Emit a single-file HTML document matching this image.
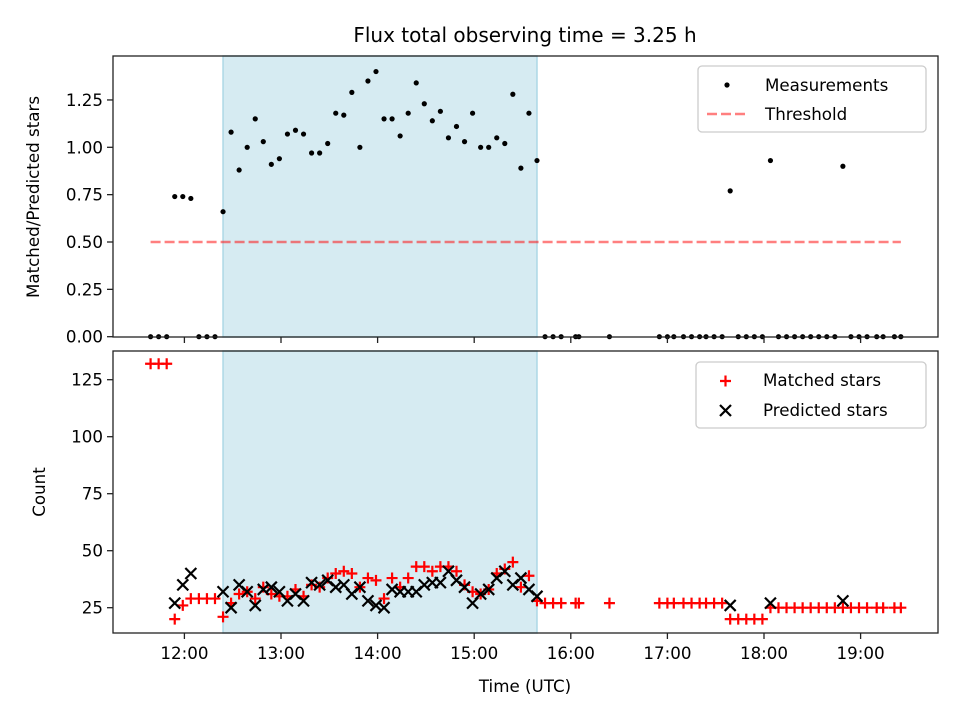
<!DOCTYPE html>
<html><head><meta charset="utf-8"><style>
html,body{margin:0;padding:0;background:#fff;}
svg{display:block;font-family:"DejaVu Sans","Liberation Sans",sans-serif;}
</style></head><body>
<svg id="chart" width="960" height="720" viewBox="0 0 960 720" xmlns="http://www.w3.org/2000/svg"></svg>
<script>
const times = ["11:39","11:44","11:49","11:54","11:59","12:04","12:09","12:14","12:19","12:24","12:29","12:34","12:39","12:44","12:49","12:54","12:59","13:04","13:09","13:14","13:19","13:24","13:29","13:34","13:39","13:44","13:49","13:54","13:59","14:04","14:09","14:14","14:19","14:24","14:29","14:34","14:39","14:44","14:49","14:54","14:59","15:04","15:09","15:14","15:19","15:24","15:29","15:34","15:39",
"15:44","15:49","15:54","16:03","16:05","16:24","16:55","17:00","17:04","17:10","17:15","17:20","17:24","17:29","17:34","17:39","17:44","17:49","17:54","17:59","18:04","18:09","18:14","18:19","18:24","18:29","18:34","18:39","18:44","18:49","18:54","18:59","19:04","19:10","19:14","19:21","19:25"];
const ratio = [0,0,0,0.74,0.74,0.73,0,0,0,0.66,1.08,0.88,1.0,1.15,1.03,0.91,0.94,1.07,1.09,1.07,0.97,0.97,1.02,1.18,1.17,1.29,1.0,1.35,1.40,1.15,1.15,1.06,1.18,1.34,1.23,1.14,1.19,1.05,1.11,1.03,1.18,1.0,1.0,1.05,1.02,1.28,0.89,1.18,0.93,
0,0,0,0,0,0,0,0,0,0,0,0,0,0,0,0.77,0,0,0,0,0.93,0,0,0,0,0,0,0,0,0.90,0,0,0,0,0,0,0];
const matched = [132,132,132,20,26,29,29,29,29,21,27,31,32,29,34,31,30,30,33,30,35,34,38,40,41,40,34,38,37,29,38,34,38,43,43,41,43,43,41,35,32,31,33,40,42,45,34,39,28,
27,27,27,27,27,27,27,27,27,27,27,27,27,27,27,20,20,20,20,20,25,25,25,25,25,25,25,25,25,25,25,25,25,25,25,25,25];
const predicted = [null,null,null,27,35,40,null,null,null,32,25,35,32,26,33,34,32,28,31,28,36,35,37,34,35,31,34,28,26,25,33,32,32,32,35,36,36,41,37,34,27,31,33,38,41,35,38,33,30,
null,null,null,null,null,null,null,null,null,null,null,null,null,null,null,26,null,null,null,null,27,null,null,null,null,null,null,null,null,28,null,null,null,null,null,null,null];
const threshold = 0.5;
const shadeStart = "12:24", shadeEnd = "15:39";
const xTickLabels = ["12:00","13:00","14:00","15:00","16:00","17:00","18:00","19:00"];
const topTicks = [0,0.25,0.5,0.75,1.0,1.25];
const botTicks = [25,50,75,100,125];

const NS="http://www.w3.org/2000/svg";
const svg=document.getElementById('chart');
const L=113,R=938,T1=56,B1=337,T2=351,B2=633;
function mins(s){const p=s.split(':');return (+p[0]-12)*60+(+p[1]);}
function x(s){return 184.4+mins(s)*1.61;}
function yTop(v){return 336.7-v*189.4;}
function yBot(v){return 607.7-(v-25)*2.28;}
function el(tag,attrs,parent){const e=document.createElementNS(NS,tag);for(const k in attrs)e.setAttribute(k,attrs[k]);(parent||svg).appendChild(e);return e;}
function txt(s,attrs,parent){const e=el('text',attrs,parent);e.textContent=s;return e;}

// title
const title=txt("Flux total observing time = 3.25 h",{x:525,y:42,'text-anchor':'middle','font-size':20,fill:'#000'});


function panel(top,bot,name){
  const g=el('g',{});
  
  const sh=el('rect',{x:x(shadeStart),y:top,width:x(shadeEnd)-x(shadeStart),height:bot-top,fill:'#add8e6','fill-opacity':0.5,stroke:'#add8e6','stroke-width':1.5},g);
  
  return g;
}
const gTop=panel(T1,B1,'ratio-panel');
const gBot=panel(T2,B2,'count-panel');

// threshold
const th=el('line',{x1:x(times[0]),x2:x(times[times.length-1]),y1:yTop(threshold),y2:yTop(threshold),stroke:'#ff0000','stroke-opacity':0.5,'stroke-width':2.5,'stroke-dasharray':'10,4'},gTop);


// measurements
times.forEach((t,i)=>{
  const c=el('circle',{cx:x(t),cy:yTop(ratio[i]),r:2.6,fill:'#000'},gTop);
  
  
});
// matched
times.forEach((t,i)=>{
  const cx=x(t),cy=yBot(matched[i]);
  const p=el('path',{d:`M${cx-5.5},${cy}H${cx+5.5}M${cx},${cy-5.5}V${cy+5.5}`,stroke:'#ff0000','stroke-width':2.2,fill:'none'},gBot);
  
  
});
// predicted
times.forEach((t,i)=>{
  if(predicted[i]===null)return;
  const cx=x(t),cy=yBot(predicted[i]),d=5.5;
  const p=el('path',{d:`M${cx-d},${cy-d}L${cx+d},${cy+d}M${cx-d},${cy+d}L${cx+d},${cy-d}`,stroke:'#000','stroke-width':2.2,fill:'none'},gBot);
  
  
});

// frames
[[T1,B1],[T2,B2]].forEach(([t,b])=>{
  const f=el('rect',{x:L,y:t,width:R-L,height:b-t,fill:'none',stroke:'#222','stroke-width':1.3});
  
});
// x ticks
xTickLabels.forEach(s=>{
  const xx=x(s);
  el('line',{x1:xx,x2:xx,y1:B1,y2:B1+6,stroke:'#222','stroke-width':1.3});
  el('line',{x1:xx,x2:xx,y1:B2,y2:B2+6,stroke:'#222','stroke-width':1.3});
  const tl=txt(s,{x:xx,y:B2+26,'text-anchor':'middle','font-size':16.7,fill:'#000'});
  
});
topTicks.forEach(v=>{
  const yy=yTop(v);
  el('line',{x1:L-6,x2:L,y1:yy,y2:yy,stroke:'#222','stroke-width':1.3});
  const tl=txt(v.toFixed(2),{x:L-10,y:yy+6,'text-anchor':'end','font-size':16.7,fill:'#000'});
  
});
botTicks.forEach(v=>{
  const yy=yBot(v);
  el('line',{x1:L-6,x2:L,y1:yy,y2:yy,stroke:'#222','stroke-width':1.3});
  const tl=txt(String(v),{x:L-10,y:yy+6,'text-anchor':'end','font-size':16.7,fill:'#000'});
  
});
// axis labels
const yl1=txt("Matched/Predicted stars",{x:0,y:0,transform:'translate(39,197) rotate(-90)','text-anchor':'middle','font-size':16.7});

const yl2=txt("Count",{x:0,y:0,transform:'translate(45,492) rotate(-90)','text-anchor':'middle','font-size':16.7});

const xl=txt("Time (UTC)",{x:525,y:692,'text-anchor':'middle','font-size':16.7});


// legends
function legendBox(x0,y0,w,h,name){
  const r=el('rect',{x:x0,y:y0,width:w,height:h,rx:4,fill:'#fff','fill-opacity':0.8,stroke:'#ccc','stroke-width':1.3});
  
}
legendBox(698,66,228,66,'ratio-legend');
el('circle',{cx:727,cy:85,r:2.6,fill:'#000'});
const le1=txt("Measurements",{x:765,y:91,'font-size':16.7});

el('line',{x1:707,x2:748,y1:114,y2:114,stroke:'#ff0000','stroke-opacity':0.5,'stroke-width':2.5,'stroke-dasharray':'10,4'});
const le2=txt("Threshold",{x:765,y:120,'font-size':16.7});


legendBox(696,362,230,66,'count-legend');
el('path',{d:'M720,381H731M725.5,375.5V386.5',stroke:'#ff0000','stroke-width':2.2});
const le3=txt("Matched stars",{x:763,y:386,'font-size':16.7});

el('path',{d:'M720,405L731,416M720,416L731,405',stroke:'#000','stroke-width':2.2});
const le4=txt("Predicted stars",{x:763,y:416,'font-size':16.7});

</script>
</body></html>
